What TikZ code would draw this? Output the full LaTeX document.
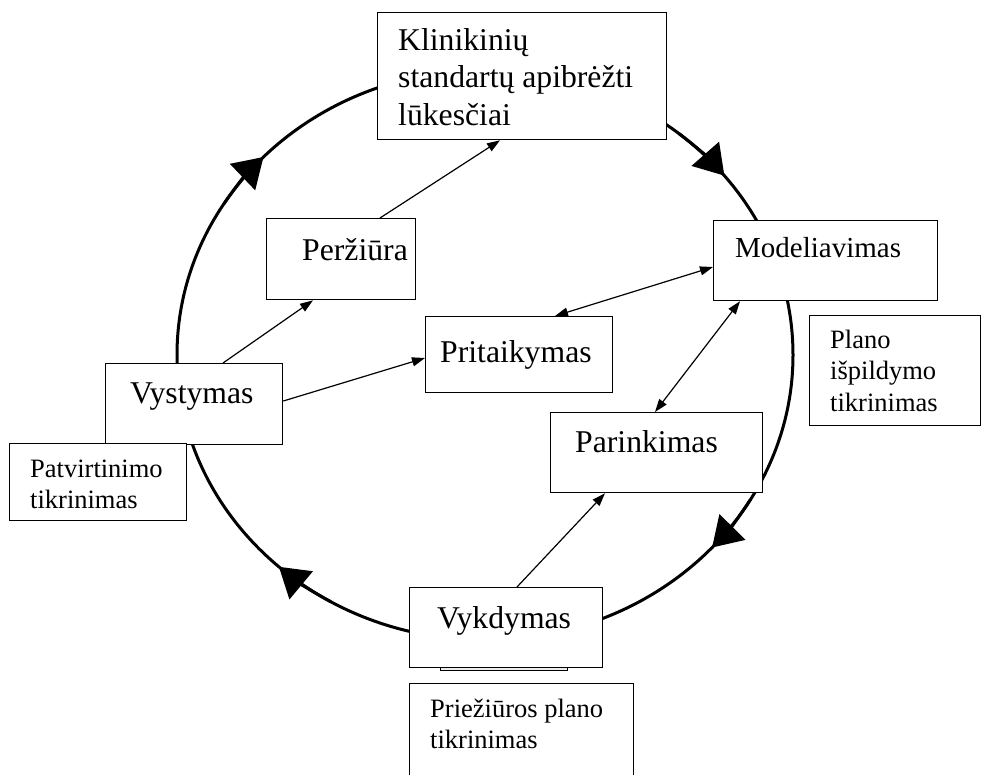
\documentclass[tikz,border=0pt]{standalone}
\usepackage{fontspec}
\setmainfont{Liberation Serif}
\usetikzlibrary{arrows.meta}
\begin{document}
\begin{tikzpicture}[x=1pt,y=-1pt,
  box/.style={draw, fill=white, line width=1.3pt, inner sep=0pt, anchor=north west},
  big/.style={font=\fontsize{31.7}{37.5}\selectfont, inner sep=0pt, anchor=base west},
  mid/.style={font=\fontsize{29}{34}\selectfont, inner sep=0pt, anchor=base west},
  small/.style={font=\fontsize{26.5}{31.5}\selectfont, inner sep=0pt, anchor=base west},
  ring/.style={line width=3pt},
  ringtip/.style={ring, -{Triangle[length=29pt,width=36pt]}},
  conn/.style={line width=1.2pt, -{Triangle[length=13pt,width=9pt]}},
  bothconn/.style={line width=1.2pt, {Triangle[length=13pt,width=9pt]}-{Triangle[length=13pt,width=9pt]}}
]
\clip (0,0) rectangle (1007,774);
\fill[white] (0,0) rectangle (1007,774);

% the cycle
\coordinate (cyc) at (485,355);
\draw[ring] (cyc) ellipse [x radius=308, y radius=285];
\foreach \s/\e in {30.5/42.5, 120/132, 212/224, 309/321}
  \draw[ringtip] ([shift={(\s:308 and 285)}]cyc) arc[start angle=\s, end angle=\e, x radius=308, y radius=285];

% boxes
\node[box, minimum width=289pt, minimum height=127pt] (klin) at (377,12) {};
\node[box, minimum width=149pt, minimum height=81pt] (perz) at (266,218) {};
\node[box, minimum width=224pt, minimum height=80pt] (mod) at (713,220) {};
\node[box, minimum width=171pt, minimum height=110pt] (plano) at (809,315) {};
\node[box, minimum width=187pt, minimum height=76pt] (prit) at (425,316) {};
\node[box, minimum width=177pt, minimum height=81pt] (vyst) at (105,363) {};
\node[box, minimum width=177pt, minimum height=77pt] (patv) at (9,443) {};
\node[box, minimum width=212pt, minimum height=80pt] (parin) at (550,412) {};
\node[box, minimum width=193pt, minimum height=80pt] (vykd) at (409,587) {};
\node[box, minimum width=224pt, minimum height=130pt] (priez) at (409,683) {};
\draw[line width=0.8pt, fill=gray!15] (440,667.5) rectangle (567,670.5);

% labels
\node[big] (klintxt) at (398,50) {\begin{tabular}[t]{@{}l@{}}Klinikinių\\standartų apibrėžti\\lūkesčiai\end{tabular}};
\node[big] (perztxt) at (302,260) {Peržiūra};
\node[mid] (modtxt) at (735,257) {Modeliavimas};
\node[small] (planotxt) at (830,348) {\begin{tabular}[t]{@{}l@{}}Plano\\išpildymo\\tikrinimas\end{tabular}};
\node[big] (prittxt) at (440,362) {Pritaikymas};
\node[big] (vysttxt) at (130,403) {Vystymas};
\node[small] (patvtxt) at (30,477) {\begin{tabular}[t]{@{}l@{}}Patvirtinimo\\tikrinimas\end{tabular}};
\node[big] (parintxt) at (575,452) {Parinkimas};
\node[big] (vykdtxt) at (437,628) {Vykdymas};
\node[small] (prieztxt) at (430,717) {\begin{tabular}[t]{@{}l@{}}Priežiūros plano\\tikrinimas\end{tabular}};

% connectors
\draw[conn] ([xshift=114pt]perz.north west) -- ([xshift=123pt]klin.south west);
\draw[conn] ([xshift=118pt]vyst.north west) -- ([xshift=47pt]perz.south west);
\draw[conn] ([yshift=-38pt]vyst.north east) -- ([yshift=-42pt]prit.north west);
\draw[bothconn] ([xshift=130pt]prit.north west) -- ([yshift=-47pt]mod.north west);
\draw[bothconn] ([xshift=105pt]parin.north west) -- ([xshift=27pt]mod.south west);
\draw[conn] ([xshift=108pt]vykd.north west) -- ([xshift=55pt]parin.south west);
\end{tikzpicture}
\end{document}
